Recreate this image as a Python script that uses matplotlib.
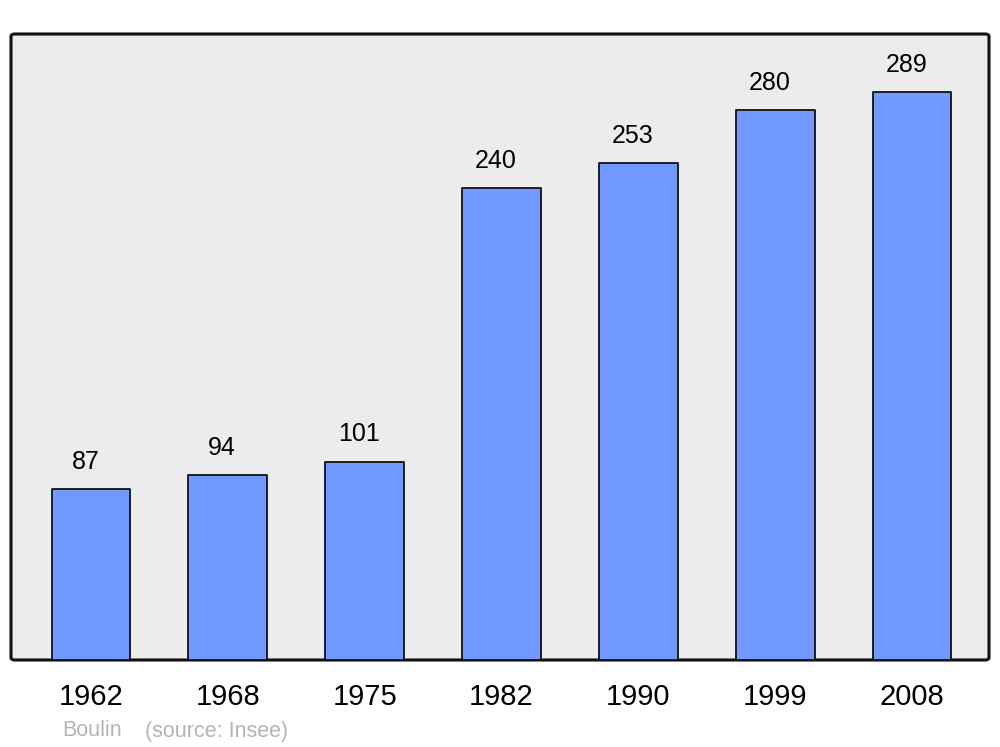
import matplotlib.pyplot as plt
from matplotlib.patches import FancyBboxPatch

plt.rcParams['font.family'] = ['Liberation Sans', 'DejaVu Sans']

years = ['1962', '1968', '1975', '1982', '1990', '1999', '2008']
population = [87, 94, 101, 240, 253, 280, 289]

fig = plt.figure(figsize=(10, 7.47), dpi=100)
ax = fig.add_axes([0.011, 1 - 660 / 747, 0.978, (660 - 34) / 747])
ax.set_facecolor('none')

# rounded frame behind the bars
frame = FancyBboxPatch((0, 0), 1, 1, boxstyle='round,pad=0,rounding_size=0.004',
                       transform=ax.transAxes, facecolor='#ececec',
                       edgecolor='#111111', linewidth=2.2, zorder=0, clip_on=False)
ax.add_patch(frame)

x = range(len(years))
bars = ax.bar(x, population, width=0.575, color='#7299ff', edgecolor='#111111',
              linewidth=1.3, zorder=2)
for b in bars:
    b.set_joinstyle('round')

for i, v in zip(x, population):
    ax.annotate(str(v), (i, v), xytext=(-4, 11), textcoords='offset points',
                ha='center', va='bottom', fontsize=18, color='black')

ax.set_xlim(-0.584, 6.562)
ax.set_ylim(0, 318.6)
ax.set_xticks(list(x))
ax.set_xticklabels(years, fontsize=21)
ax.tick_params(axis='x', length=0, pad=16.5)
ax.set_yticks([])
for s in ax.spines.values():
    s.set_visible(False)

fig.text(0.062, 1 - 731 / 747, 'Boulin', fontsize=15.5,
         color='#b4b4b4', va='center', ha='left')
fig.text(0.145, 1 - 731 / 747, '(source: Insee)', fontsize=15.5,
         color='#b4b4b4', va='center', ha='left')

fig.savefig('out.png', dpi=100)
